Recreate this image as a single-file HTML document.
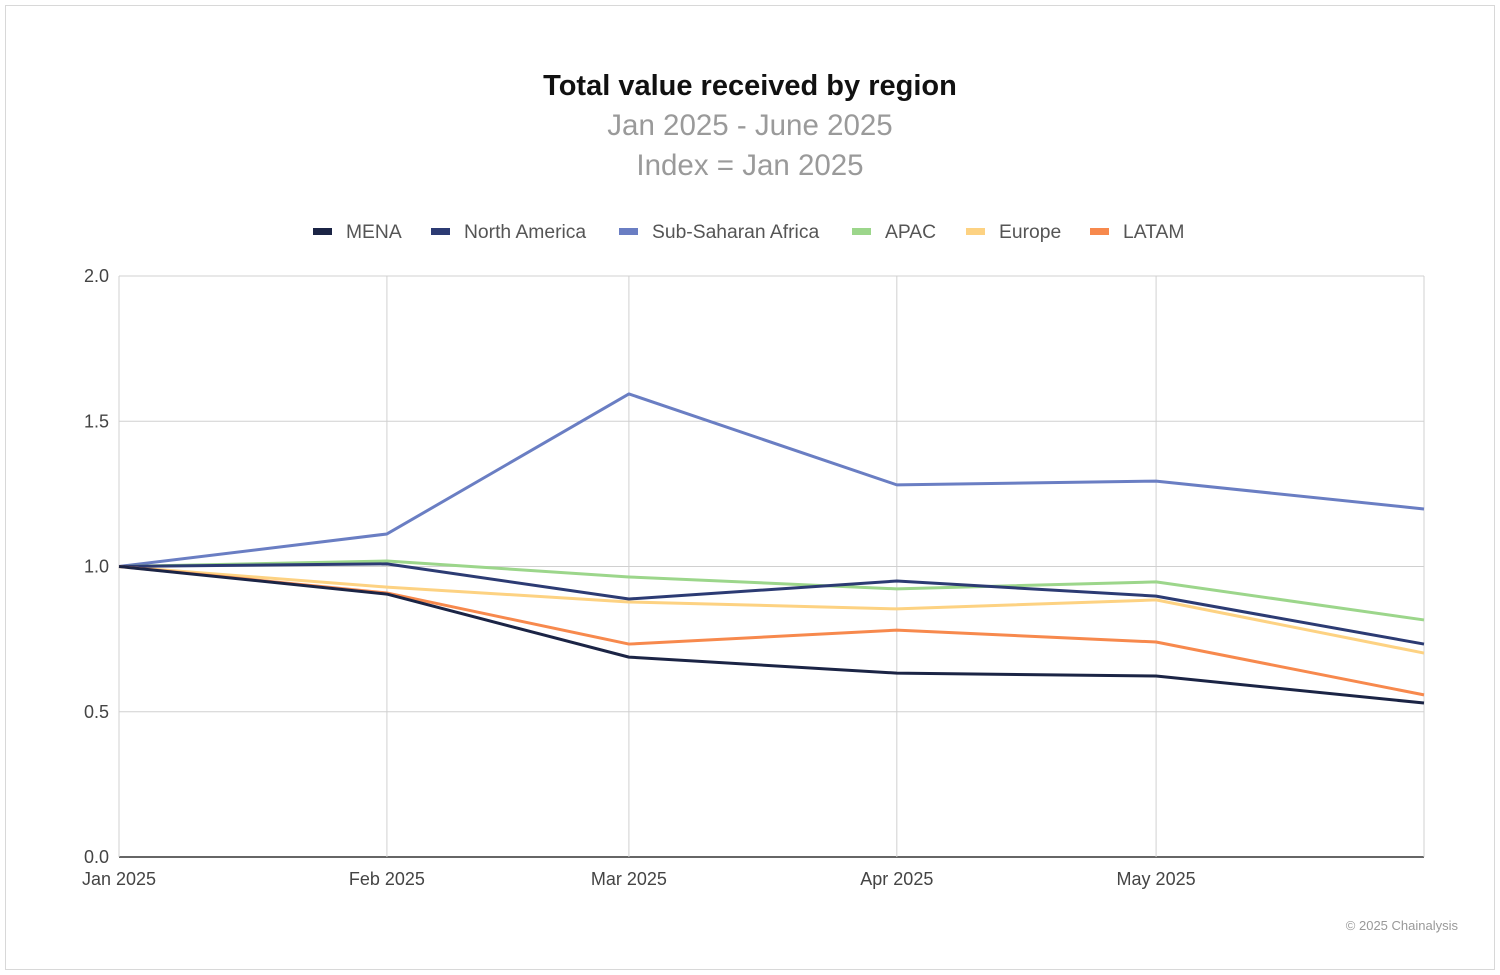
<!DOCTYPE html>
<html><head><meta charset="utf-8"><style>
body{margin:0;width:1500px;height:975px;background:#fff;font-family:"Liberation Sans",sans-serif;overflow:hidden}
#frame{position:absolute;left:5px;top:5px;width:1488px;height:963px;border:1px solid #d8d8d8}
</style></head><body>
<div id="frame"></div>
<svg width="1500" height="975" style="position:absolute;left:0;top:0">
<text x="750" y="95" text-anchor="middle" font-size="29" font-weight="bold" fill="#111">Total value received by region</text>
<text x="750" y="135" text-anchor="middle" font-size="29.5" fill="#9a9a9a">Jan 2025 - June 2025</text>
<text x="750" y="175" text-anchor="middle" font-size="29.5" fill="#9a9a9a">Index = Jan 2025</text>
<g id="grid"></g><g id="lines"></g><g id="legend"></g>
<text x="1458" y="930" text-anchor="end" font-size="13" fill="#999">© 2025 Chainalysis</text>
</svg>
<script>
const dates=["2025-01-01","2025-02-01","2025-03-01","2025-04-01","2025-05-01","2025-06-01"];
const xLabels=["Jan 2025","Feb 2025","Mar 2025","Apr 2025","May 2025",""];
const yTicks=[0,0.5,1,1.5,2];
const seriesNames=["MENA","North America","Sub-Saharan Africa","APAC","Europe","LATAM"];
const mena=[1.0,0.905,0.688,0.633,0.623,0.530];
const northAmerica=[1.0,1.009,0.888,0.950,0.898,0.733];
const ssa=[1.0,1.112,1.594,1.281,1.294,1.198];
const apac=[1.0,1.019,0.964,0.923,0.947,0.816];
const europe=[1.0,0.929,0.878,0.854,0.885,0.702];
const latam=[1.0,0.909,0.733,0.781,0.740,0.558];
const colors=["#1b2445","#2c3b73","#6a7ec3","#9cd68b","#fdd282","#f7894d"];
const ns="http://www.w3.org/2000/svg";
const X0=119,X1=1424,Y0=857,Y1=276;
const t0=Date.parse(dates[0]),t1=Date.parse(dates[dates.length-1]);
function x(d){return X0+(Date.parse(d)-t0)/(t1-t0)*(X1-X0);}
function y(v){return Y0-(v-0)/(2-0)*(Y0-Y1);}
function mk(tag,attrs,parent){const e=document.createElementNS(ns,tag);for(const k in attrs)e.setAttribute(k,attrs[k]);parent.appendChild(e);return e;}
const grid=document.getElementById('grid');
yTicks.forEach(v=>{
  const l=mk('line',{x1:X0,x2:X1,y1:y(v),y2:y(v),stroke:v===0?'#333':'#d0d0d0','stroke-width':v===0?1.5:1},grid);
  
  
  const t=mk('text',{x:X0-10,y:y(v)+6,'text-anchor':'end','font-size':18,fill:'#444'},grid);
  t.textContent=v.toFixed(1);
  
  
});
dates.forEach((d,i)=>{
  const l=mk('line',{x1:x(d),x2:x(d),y1:Y1,y2:Y0,stroke:'#d0d0d0','stroke-width':1},grid);
  
  
  const t=mk('text',{x:x(d),y:885,'text-anchor':'middle','font-size':18,fill:'#444'},grid);
  t.textContent=xLabels[i];
  
  
});
const data=[mena,northAmerica,ssa,apac,europe,latam];
const drawOrder=[2,3,4,1,5,0];
const lines=document.getElementById('lines');
drawOrder.forEach(si=>{
  const pts=data[si].map((v,i)=>x(dates[i])+','+y(v)).join(' ');
  const p=mk('polyline',{points:pts,fill:'none',stroke:colors[si],'stroke-width':3,'stroke-linejoin':'round'},lines);
  
  
});
const legend=document.getElementById('legend');
const lx=[313,431,619,852,966,1090];
seriesNames.forEach((n,i)=>{
  const g=mk('g',{},legend);
  
  
  mk('rect',{x:lx[i],y:228,width:19,height:7,fill:colors[i]},g);
  const t=mk('text',{x:lx[i]+33,y:238,'font-size':19.3,fill:'#555'},g);
  t.textContent=n;
});
</script>
</body></html>
